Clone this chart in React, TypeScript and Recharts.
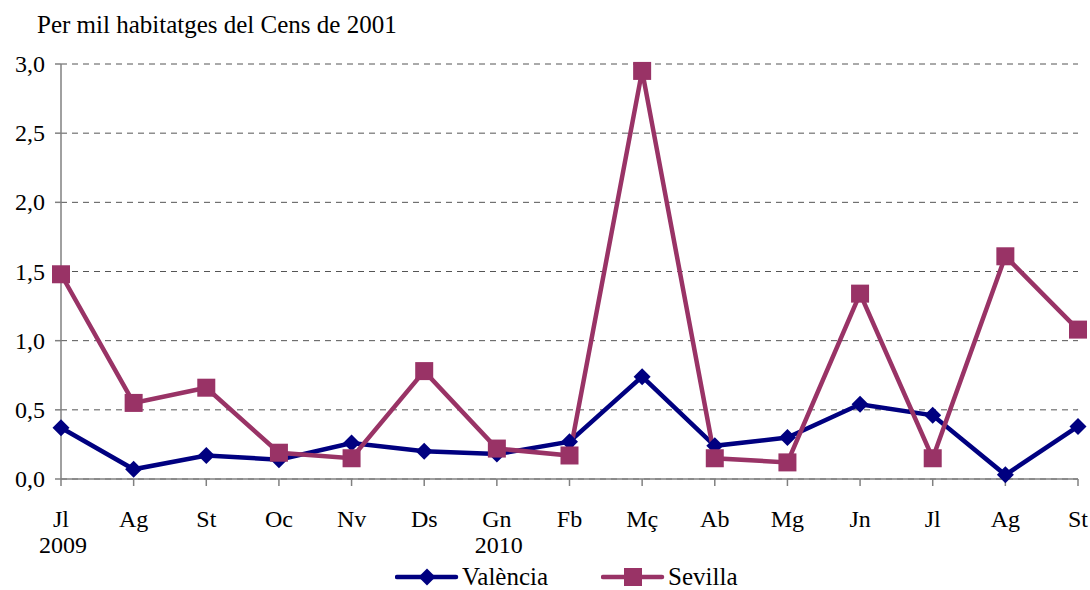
import React from "react";
import { CartesianGrid, Legend, Line, LineChart, XAxis, YAxis } from "recharts";

const months = ["Jl", "Ag", "St", "Oc", "Nv", "Ds", "Gn", "Fb", "Mç", "Ab", "Mg", "Jn", "Jl", "Ag", "St"];
const years = ["2009", "", "", "", "", "", "2010", "", "", "", "", "", "", "", ""];
const valencia = [0.37, 0.07, 0.17, 0.14, 0.26, 0.2, 0.18, 0.27, 0.74, 0.24, 0.3, 0.54, 0.46, 0.03, 0.38];
const sevilla = [1.48, 0.55, 0.66, 0.19, 0.15, 0.78, 0.22, 0.17, 2.95, 0.15, 0.12, 1.34, 0.15, 1.61, 1.08];
const yTicks = [0, 0.5, 1, 1.5, 2, 2.5, 3];

const data = months.map((m, i) => ({
  idx: i,
  month: m,
  valencia: valencia[i],
  sevilla: sevilla[i],
}));

const FONT = "'Liberation Serif', serif";
const FS = 24;
const BLUE = "#000080";
const PLUM = "#993366";

function Diamond({ cx, cy }: any) {
  if (cx == null || cy == null) return null;
  const r = 8.5;
  return (
    <polygon points={`${cx},${cy - r} ${cx + r},${cy} ${cx},${cy + r} ${cx - r},${cy}`} fill={BLUE} />
  );
}

function Square({ cx, cy }: any) {
  if (cx == null || cy == null) return null;
  const s = 9;
  return <rect x={cx - s} y={cy - s} width={s * 2} height={s * 2} fill={PLUM} />;
}

function MonthTick({ x, y, payload }: any) {
  const i = payload.value as number;
  return (
    <g transform={`translate(${x},${y})`}>
      <text textAnchor="middle" style={{ fontFamily: FONT }} fontSize={FS} fill="#000">
        <tspan x={0} dy={39}>{months[i]}</tspan>
        {years[i] && (
          <tspan x={2} dy={26}>{years[i]}</tspan>
        )}
      </text>
    </g>
  );
}

function ValueTick({ x, y, payload }: any) {
  const v = payload.value as number;
  return (
    <g transform={`translate(${x},${y})`}>
      <text x={0} y={0} dy={8} textAnchor="end" style={{ fontFamily: FONT }} fontSize={FS} fill="#000">
        {v.toFixed(1).replace(".", ",")}
      </text>
    </g>
  );
}

function LegendContent() {
  const item = (label: string, color: string, marker: "d" | "s", gap: number) => (
    <div style={{ display: "flex", alignItems: "center", marginRight: gap }}>
      <svg width={64} height={22} style={{ display: "block" }}>
        <line x1={2} y1={11} x2={61} y2={11} stroke={color} strokeWidth={4.5} strokeLinecap="round" />
        {marker === "d" ? (
          <polygon points="32,2.5 40.5,11 32,19.5 23.5,11" fill={color} />
        ) : (
          <rect x={23} y={2} width={18} height={18} fill={color} />
        )}
      </svg>
      <span style={{ fontFamily: FONT, fontSize: FS + 1, color: "#000", marginLeft: 3 }}>{label}</span>
    </div>
  );
  return (
    <div style={{ display: "flex", paddingLeft: 395 }}>
      {item("València", BLUE, "d", 53)}
      {item("Sevilla", PLUM, "s", 0)}
    </div>
  );
}

export default function App() {
  return (
    <div style={{ position: "absolute", left: 0, top: 0, width: 1090, height: 590, background: "#fff" }}>
      <div
        style={{
          position: "absolute",
          left: 37,
          top: 12,
          fontFamily: FONT,
          fontSize: FS + 1,
          lineHeight: "25px",
          color: "#000",
          whiteSpace: "nowrap",
        }}
      >
        Per mil habitatges del Cens de 2001
      </div>
      <LineChart width={1090} height={590} data={data} margin={{ top: 64, right: 12, left: 0, bottom: 0 }}>
        <CartesianGrid horizontal vertical={false} stroke="#555" strokeDasharray="6 5" />
        <XAxis
          dataKey="idx"
          type="category"
          tick={<MonthTick />}
          tickLine={{ stroke: "#808080", strokeWidth: 1.5 }}
          tickSize={7}
          axisLine={{ stroke: "#808080", strokeWidth: 1.5 }}
          height={111}
          interval={0}
        />
        <YAxis
          domain={[0, 3]}
          ticks={yTicks}
          width={61}
          tick={<ValueTick />}
          tickLine={{ stroke: "#808080", strokeWidth: 1.5 }}
          tickSize={6}
          tickMargin={10}
          axisLine={{ stroke: "#808080", strokeWidth: 1.5 }}
          interval={0}
        />
        <Legend
          layout="horizontal"
          verticalAlign="middle"
          align="center"
          content={<LegendContent />}
          wrapperStyle={{ position: "absolute", top: 563, left: 0, width: 1090 }}
        />
        <Line
          dataKey="valencia"
          name="València"
          stroke={BLUE}
          strokeWidth={4.5}
          dot={<Diamond />}
          activeDot={false}
          isAnimationActive={false}
        />
        <Line
          dataKey="sevilla"
          name="Sevilla"
          stroke={PLUM}
          strokeWidth={4.5}
          dot={<Square />}
          activeDot={false}
          isAnimationActive={false}
        />
      </LineChart>
    </div>
  );
}
